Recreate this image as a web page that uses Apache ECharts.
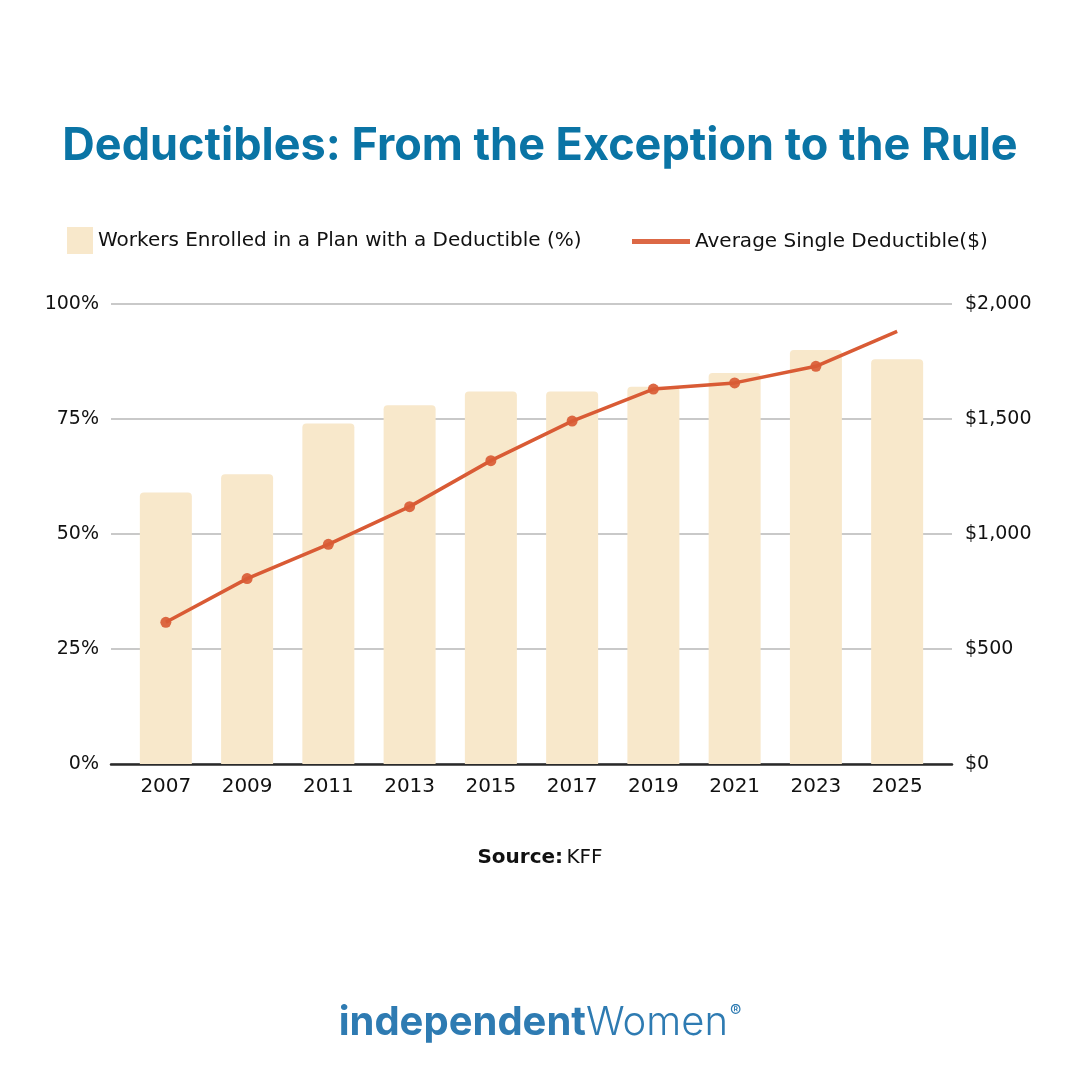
<!DOCTYPE html>
<html>
<head>
<meta charset="utf-8">
<style>
  html, body { margin: 0; padding: 0; background: #ffffff; }
  #chart { width: 1080px; height: 1080px; }
</style>
<script src="https://cdn.jsdelivr.net/npm/echarts@6/dist/echarts.min.js"></script>
</head>
<body>
<div id="chart"></div>
<script>
// ---- Data ----
const years = [2007, 2009, 2011, 2013, 2015, 2017, 2019, 2021, 2023, 2025];
const workersPct = [59, 63, 74, 78, 81, 81, 82, 85, 90, 88];
const avgDeductible = [616, 806, 955, 1119, 1319, 1491, 1630, 1657, 1729, 1881];
const leftTicks = [0, 25, 50, 75, 100];
const rightTicks = [0, 500, 1000, 1500, 2000];

const FONT = 'DejaVu Sans';
const TITLE_FONT = 'Inter';
const LOGO_FONT = 'Inter';
const barColor = '#f8e8cb';
const lineColor = '#d95b35';

const chart = echarts.init(document.getElementById('chart'), null, { renderer: 'canvas' });

const barData = years.map((y, i) => [y, workersPct[i]]);
const lineData = years.map((y, i) => {
  const item = { value: [y, avgDeductible[i]] };
  if (i === years.length - 1) item.symbol = 'none';
  return item;
});

function fmtDollar(v) {
  return '$' + String(v).replace(/\B(?=(\d{3})+(?!\d))/g, ',');
}

const option = {
  backgroundColor: '#ffffff',
  animation: false,
  textStyle: { fontFamily: FONT },
  title: {
    text: 'Deductibles: From the Exception to the Rule',
    left: 'center',
    top: 119,
    textStyle: { fontFamily: TITLE_FONT, fontSize: 45, fontWeight: 'bold', color: '#0a74a5' }
  },
  legend: [
    {
      data: ['Workers Enrolled in a Plan with a Deductible (%)'],
      left: 67, top: 227, padding: 0,
      itemWidth: 26, itemHeight: 27,
      icon: 'rect',
      textStyle: { fontFamily: FONT, fontSize: 20, color: '#111111' }
    },
    {
      data: [{ name: 'Average Single Deductible($)', icon: 'rect', itemStyle: { color: lineColor } }],
      left: 632, top: 228, padding: 0,
      itemWidth: 58, itemHeight: 5,
      textStyle: { fontFamily: FONT, fontSize: 20, color: '#111111', lineHeight: 27, height: 27 }
    }
  ],
  grid: { left: 111, right: 128, top: 304, bottom: 316, containLabel: false },
  xAxis: {
    type: 'value',
    min: 2005.65,
    max: 2026.35,
    splitLine: { show: false },
    axisTick: { show: false },
    axisLine: { show: true, onZero: false, lineStyle: { color: '#2a2a2a', width: 2.5 } },
    axisLabel: {
      customValues: years,
      formatter: v => String(v),
      margin: 13,
      fontFamily: FONT, fontSize: 20, color: '#111111'
    }
  },
  yAxis: [
    {
      type: 'value', min: 0, max: 100, interval: 25,
      axisLine: { show: false }, axisTick: { show: false },
      splitLine: { show: true, lineStyle: { color: '#c9c9c9', width: 2 } },
      axisLabel: {
        formatter: '{value}%', margin: 12,
        fontFamily: FONT, fontSize: 19, color: '#111111'
      }
    },
    {
      type: 'value', min: 0, max: 2000, interval: 500,
      axisLine: { show: false }, axisTick: { show: false },
      splitLine: { show: false },
      axisLabel: {
        formatter: fmtDollar, margin: 13,
        fontFamily: FONT, fontSize: 19, color: '#111111'
      }
    }
  ],
  series: [
    {
      name: 'Workers Enrolled in a Plan with a Deductible (%)',
      type: 'bar',
      yAxisIndex: 0,
      barWidth: 52,
      data: barData,
      itemStyle: { color: barColor, borderRadius: [4, 4, 0, 0] },
      z: 2
    },
    {
      name: 'Average Single Deductible($)',
      type: 'line',
      yAxisIndex: 1,
      data: lineData,
      symbol: 'circle',
      symbolSize: 11,
      lineStyle: { color: lineColor, width: 3.5 },
      itemStyle: { color: lineColor, opacity: 0.92 },
      z: 3
    }
  ],
  graphic: [
    {
      type: 'text',
      left: 'center',
      top: 848,
      style: {
        text: '{b|Source:} {r|KFF}',
        rich: {
          b: { fontFamily: FONT, fontSize: 20, fontWeight: 'bold', fill: '#111111' },
          r: { fontFamily: FONT, fontSize: 20, fontWeight: 'normal', fill: '#111111' }
        }
      }
    },
    {
      type: 'text',
      left: 'center',
      top: 1003,
      style: {
        text: '{b|independent}{l|Women}{r|®}',
        rich: {
          b: { fontFamily: LOGO_FONT, fontSize: 40, fontWeight: 'bold', fill: '#2e7bb2' },
          l: { fontFamily: LOGO_FONT, fontSize: 40, fontWeight: 300, fill: '#2e7bb2' },
          r: { fontFamily: LOGO_FONT, fontSize: 17, fontWeight: 'normal', fill: '#2e7bb2', verticalAlign: 'top', padding: [0, 0, 20, 2] }
        }
      }
    }
  ]
};

chart.setOption(option);
</script>
</body>
</html>
